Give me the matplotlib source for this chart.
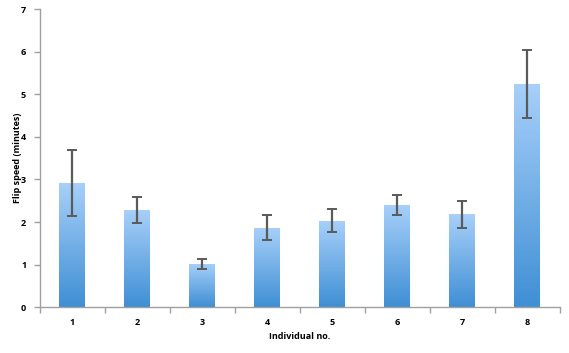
import matplotlib
matplotlib.use("Agg")
import matplotlib.pyplot as plt
import numpy as np
from matplotlib.colors import LinearSegmentedColormap

categories = ["1", "2", "3", "4", "5", "6", "7", "8"]
values = [2.92, 2.28, 1.02, 1.87, 2.03, 2.40, 2.18, 5.24]
errors = [0.78, 0.30, 0.12, 0.30, 0.27, 0.23, 0.31, 0.80]
yticks = [0, 1, 2, 3, 4, 5, 6, 7]

plt.rcParams['font.family'] = ['Open Sans', 'DejaVu Sans']
fig = plt.figure(figsize=(5.69, 3.53), dpi=100)
ax = fig.add_axes([0.0703, 0.1295, 0.9137, 0.845])

x = np.arange(1, len(categories) + 1)
bars = ax.bar(x, values, width=0.4, color='none', edgecolor='none', zorder=2)
cmap = LinearSegmentedColormap.from_list('g', ['#3F8FD4', '#A8D0FA'])
grad = np.linspace(0, 1, 256).reshape(-1, 1)
for b in bars:
    x0, y0 = b.get_x(), b.get_y()
    w, h = b.get_width(), b.get_height()
    im = ax.imshow(grad, cmap=cmap, origin='lower', aspect='auto',
                   extent=[x0, x0 + w, y0, y0 + h], zorder=2)
    im.set_clip_path(b)
ax.errorbar(x, values, yerr=errors, fmt='none', ecolor='#5A5A5A',
            elinewidth=1.6, capsize=3.5, capthick=1.4, zorder=3)

ax.set_xlim(0.5, 8.5)
ax.set_ylim(0, 7)
ax.set_yticks(yticks)
ax.set_yticklabels([str(t) for t in yticks], fontsize=6.5, fontweight='bold')
ax.set_xticks(x)
ax.set_xticklabels(categories, fontsize=6.5, fontweight='bold')
ax.set_xticks(np.arange(0.5, 9.0, 1.0), minor=True)
ax.tick_params(axis='x', which='major', length=0, pad=8)
ax.tick_params(axis='x', which='minor', length=4, color='#A0A0A0', width=1)
ax.tick_params(axis='y', length=4, color='#A0A0A0', width=1, pad=6)
for s in ['top', 'right']:
    ax.spines[s].set_visible(False)
for s in ['left', 'bottom']:
    ax.spines[s].set_color('#A0A0A0')
    ax.spines[s].set_linewidth(1)
ax.set_ylabel('Flip speed (minutes)', fontsize=6.5, fontweight='bold')
ax.yaxis.set_label_coords(-0.034, 0.5)
ax.set_xlabel('Individual no.', fontsize=6.5, fontweight='bold', labelpad=3)

fig.savefig('out.png', dpi=100)
